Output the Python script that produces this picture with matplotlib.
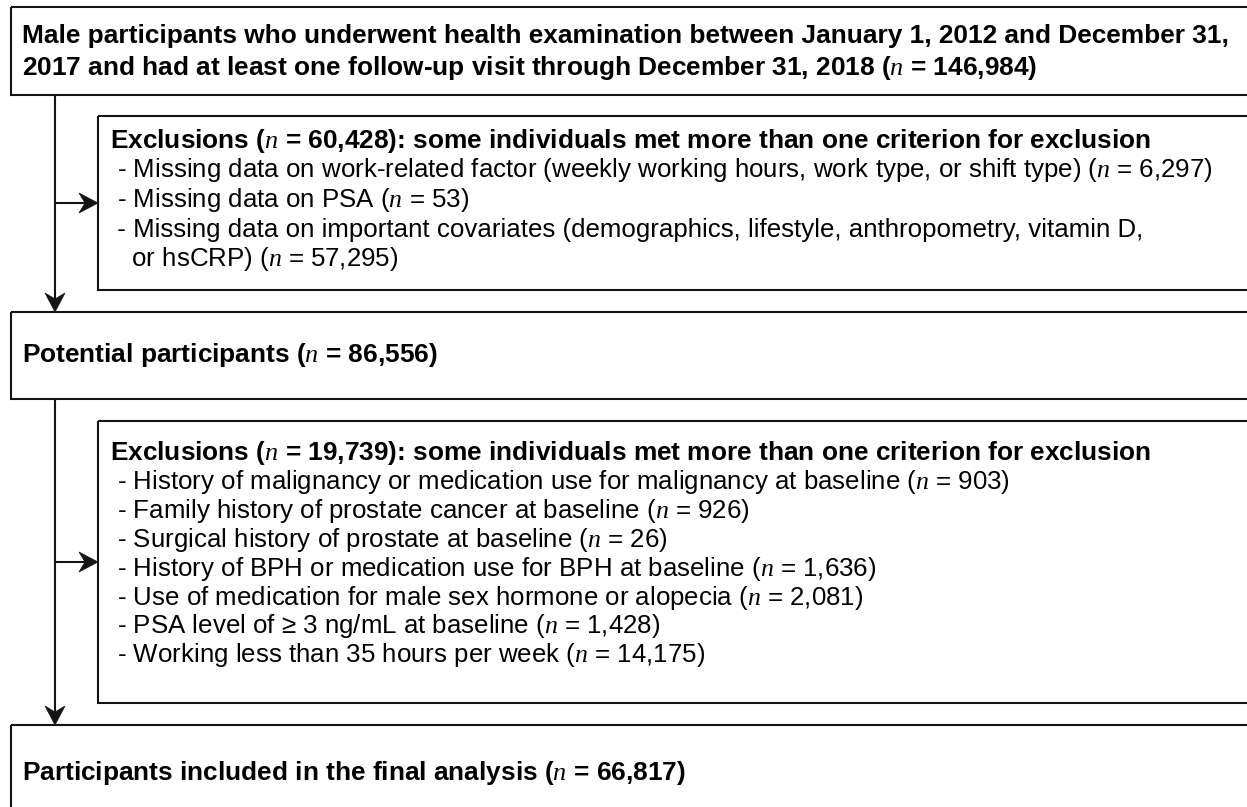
import matplotlib
matplotlib.use("Agg")
import matplotlib.pyplot as plt
from matplotlib.patches import Rectangle, Polygon

plt.rcParams['font.family'] = ['Liberation Sans', 'DejaVu Sans']
plt.rcParams['mathtext.fontset'] = 'custom'
plt.rcParams['mathtext.it'] = 'Liberation Serif:italic'
plt.rcParams['mathtext.rm'] = 'Liberation Sans'
plt.rcParams['mathtext.bf'] = 'Liberation Sans:bold'

# ---- data ----
n_initial = 146984
excl1_total = 60428
excl1_labels = [
    "Missing data on work-related factor (weekly working hours, work type, or shift type)",
    "Missing data on PSA",
    "Missing data on important covariates (demographics, lifestyle, anthropometry, vitamin D,\n or hsCRP)",
]
excl1_counts = [6297, 53, 57295]
n_potential = 86556
excl2_total = 19739
excl2_labels = [
    "History of malignancy or medication use for malignancy at baseline",
    "Family history of prostate cancer at baseline",
    "Surgical history of prostate at baseline",
    "History of BPH or medication use for BPH at baseline",
    "Use of medication for male sex hormone or alopecia",
    "PSA level of \u2265 3 ng/mL at baseline",
    "Working less than 35 hours per week",
]
excl2_counts = [903, 926, 26, 1636, 2081, 1428, 14175]
n_final = 66817

N = r"$n$"

def fmt(v):
    return f"{v:,}"

W, H = 1247, 807
fig = plt.figure(figsize=(W / 100, H / 100), dpi=100)
ax = fig.add_axes([0, 0, 1, 1])
ax.set_xlim(0, W)
ax.set_ylim(H, 0)
ax.axis('off')

LW = 1.5
EC = '#141414'

def box(x0, y0, x1, y1):
    ax.add_patch(Rectangle((x0, y0), x1 - x0, y1 - y0, fill=False,
                           edgecolor=EC, linewidth=LW, clip_on=True))

BOLD = 18.9
REG = 18.65

# box 1
box(11, 7, 1262, 95)
ax.text(22, 36, "Male participants who underwent health examination between January 1, 2012 and December 31,",
        fontsize=BOLD, fontweight='bold', va='center', ha='left')
ax.text(22, 68, f"2017 and had at least one follow-up visit through December 31, 2018 ({N} = {fmt(n_initial)})",
        fontsize=BOLD, fontweight='bold', va='center', ha='left')

# exclusion box 1
box(98, 116, 1262, 290)
ax.text(110, 141, f"Exclusions ({N} = {fmt(excl1_total)}): some individuals met more than one criterion for exclusion",
        fontsize=BOLD, fontweight='bold', va='center', ha='left')
ys1 = [170, 200, 230]
for y, lab, c in zip(ys1, excl1_labels, excl1_counts):
    parts = lab.split("\n")
    if len(parts) == 1:
        ax.text(110, y, f" - {lab} ({N} = {fmt(c)})", fontsize=REG, va='center', ha='left')
    else:
        ax.text(110, y, f" - {parts[0]}", fontsize=REG, va='center', ha='left')
        ax.text(110, y + 29, f"  {parts[1]} ({N} = {fmt(c)})", fontsize=REG, va='center', ha='left')

# box 2
box(11, 312, 1262, 399)
ax.text(22, 355, f"Potential participants ({N} = {fmt(n_potential)})",
        fontsize=BOLD, fontweight='bold', va='center', ha='left')

# exclusion box 2
box(98, 421, 1262, 703)
ax.text(110, 453, f"Exclusions ({N} = {fmt(excl2_total)}): some individuals met more than one criterion for exclusion",
        fontsize=BOLD, fontweight='bold', va='center', ha='left')
y0 = 482
for i, (lab, c) in enumerate(zip(excl2_labels, excl2_counts)):
    ax.text(110, y0 + i * 28.9, f" - {lab} ({N} = {fmt(c)})", fontsize=REG, va='center', ha='left')

# final box
box(11, 725, 1262, 830)
ax.text(22, 773, f"Participants included in the final analysis ({N} = {fmt(n_final)})",
        fontsize=BOLD, fontweight='bold', va='center', ha='left')

# arrows (line + stealth-shaped head)
HL, HW, NOTCH = 19, 10, 6

def arrow(x0, y0, x1, y1):
    if x0 == x1:  # vertical, pointing down
        ax.plot([x0, x1], [y0, y1 - HL + NOTCH], color=EC, lw=LW, solid_capstyle='butt')
        pts = [(x1, y1), (x1 - HW, y1 - HL), (x1, y1 - HL + NOTCH), (x1 + HW, y1 - HL)]
    else:  # horizontal, pointing right
        ax.plot([x0, x1 - HL + NOTCH], [y0, y1], color=EC, lw=LW, solid_capstyle='butt')
        pts = [(x1, y1), (x1 - HL, y1 - HW), (x1 - HL + NOTCH, y1), (x1 - HL, y1 + HW)]
    ax.add_patch(Polygon(pts, closed=True, facecolor=EC, edgecolor=EC, lw=0.5))

arrow(55, 95, 55, 312)
arrow(55, 203, 98, 203)
arrow(55, 399, 55, 725)
arrow(55, 562, 98, 562)

fig.savefig("out.png", dpi=100, facecolor='white')
